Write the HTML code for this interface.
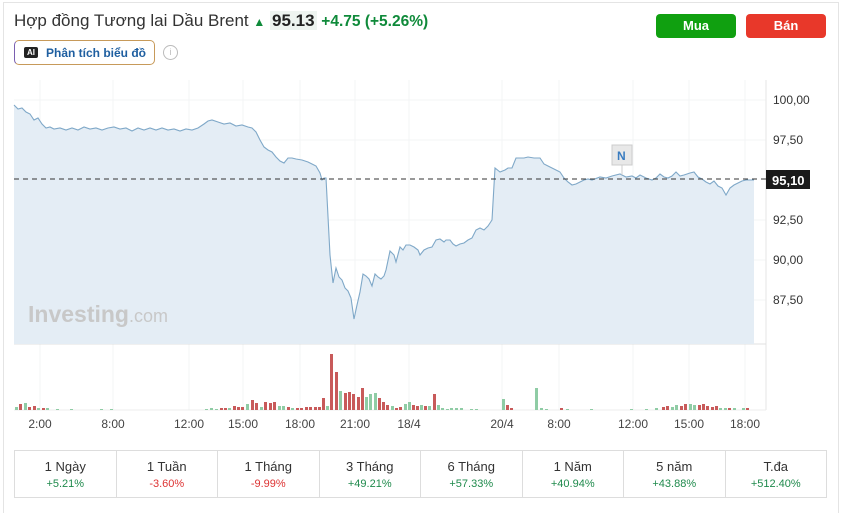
<!DOCTYPE html>
<html><head><meta charset="utf-8"><style>
body{margin:0;width:841px;height:505px;background:#fff;font-family:"Liberation Sans",sans-serif;position:relative;overflow:hidden}
.card{position:absolute;left:3px;top:2px;width:834px;height:510px;border:1px solid #e4e4e4;border-bottom:none}
.title{position:absolute;left:14px;top:11px;font-size:17px;color:#333;white-space:nowrap}
.title b{font-weight:bold;color:#222;background:#eef4f0;padding:0 2px}
.title .g{color:#0f8a3a;font-weight:bold;font-size:15.5px}
.ai{position:absolute;left:14px;top:40px;width:141px;height:25px;border:1px solid #c79a5a;border-left-color:#7a5fb0;border-radius:5px;box-sizing:border-box}
.ai span{position:absolute;left:31px;top:5px;font-size:12px;font-weight:bold;color:#1f5fa0}
.ai i{position:absolute;left:9px;top:6px;width:14px;height:11px;background:#222;border-radius:2px;color:#fff;font-size:8px;font-style:normal;font-weight:bold;text-align:center;line-height:11px}
.info{position:absolute;left:163px;top:45px;width:13px;height:13px;border:1px solid #bbb;border-radius:50%;color:#bbb;font-size:9px;text-align:center;line-height:13px}
.btn{position:absolute;top:14px;width:80px;height:24px;border-radius:4px;color:#fff;font-weight:bold;font-size:13px;text-align:center;line-height:24px}
.tbl{position:absolute;left:14px;top:450px;width:813px;height:48px;border:1px solid #ddd;box-sizing:border-box;display:flex}
.tbl div{flex:1;border-right:1px solid #ddd;text-align:center;font-size:13px;color:#333;padding-top:8px}
.tbl div:last-child{border-right:none}
.tbl div p{margin:4px 0 0;font-size:11px}
.up{color:#1f8a4c}.dn{color:#d33}
</style></head><body>
<div class="card"></div>
<div class="title">Hợp đồng Tương lai Dầu Brent <span style="color:#0f8a3a;font-size:12px">&#9650;</span> <b>95.13</b> <span class="g">+4.75 (+5.26%)</span></div>
<div class="ai"><i>AI</i><span>Phân tích biểu đồ</span></div>
<div class="info">i</div>
<div class="btn" style="left:656px;background:#10a010">Mua</div>
<div class="btn" style="left:746px;background:#e8382a">Bán</div>
<svg style="position:absolute;left:0;top:0" width="841" height="450" xmlns="http://www.w3.org/2000/svg">
<g stroke="#f3f4f6" stroke-width="1">
<line x1="14" y1="100" x2="766" y2="100"/><line x1="14" y1="140" x2="766" y2="140"/><line x1="14" y1="220" x2="766" y2="220"/><line x1="14" y1="260" x2="766" y2="260"/><line x1="14" y1="300" x2="766" y2="300"/>
<line x1="40" y1="80" x2="40" y2="410"/><line x1="113" y1="80" x2="113" y2="410"/><line x1="189" y1="80" x2="189" y2="410"/><line x1="243" y1="80" x2="243" y2="410"/><line x1="300" y1="80" x2="300" y2="410"/><line x1="355" y1="80" x2="355" y2="410"/><line x1="409" y1="80" x2="409" y2="410"/><line x1="502" y1="80" x2="502" y2="410"/><line x1="559" y1="80" x2="559" y2="410"/><line x1="633" y1="80" x2="633" y2="410"/><line x1="689" y1="80" x2="689" y2="410"/><line x1="745" y1="80" x2="745" y2="410"/>
</g>
<line x1="766" y1="80" x2="766" y2="410" stroke="#e6e6e6"/>
<line x1="14" y1="344" x2="766" y2="344" stroke="#e0e0e0"/>
<line x1="14" y1="410" x2="766" y2="410" stroke="#ececec"/>
<path id="area" fill="#e4edf5" stroke="none"/>
<polyline id="ln" fill="none" stroke="#7fa8c8" stroke-width="1.1"/>
<line x1="14" y1="179" x2="766" y2="179" stroke="#333" stroke-dasharray="5,4" stroke-width="1"/>
<rect x="766" y="170" width="44" height="19" fill="#1a1a1a"/>
<text x="772" y="185" font-size="13" font-weight="bold" fill="#fff">95,10</text>
<g font-size="12" fill="#333">
<text x="773" y="104">100,00</text><text x="773" y="144">97,50</text><text x="773" y="224">92,50</text><text x="773" y="264">90,00</text><text x="773" y="304">87,50</text>
</g>
<rect x="612" y="145" width="20" height="20" fill="#e8e8e8" stroke="#ccc"/>
<text x="617" y="160" font-size="12" font-weight="bold" fill="#3a7cc0">N</text>
<line x1="622" y1="165" x2="622" y2="175" stroke="#ccc"/>
<text x="28" y="322" font-size="23" font-weight="bold" fill="#c8c8c8">Investing<tspan font-weight="normal" font-size="18">.com</tspan></text>
<g id="vol"></g>
<g font-size="12" fill="#444" text-anchor="middle">
<text x="40" y="428">2:00</text><text x="113" y="428">8:00</text><text x="189" y="428">12:00</text><text x="243" y="428">15:00</text><text x="300" y="428">18:00</text><text x="355" y="428">21:00</text><text x="409" y="428">18/4</text><text x="502" y="428">20/4</text><text x="559" y="428">8:00</text><text x="633" y="428">12:00</text><text x="689" y="428">15:00</text><text x="745" y="428">18:00</text>
</g>
</svg>
<div class="tbl">
<div>1 Ngày<p class="up">+5.21%</p></div><div>1 Tuần<p class="dn">-3.60%</p></div><div>1 Tháng<p class="dn">-9.99%</p></div><div>3 Tháng<p class="up">+49.21%</p></div><div>6 Tháng<p class="up">+57.33%</p></div><div>1 Năm<p class="up">+40.94%</p></div><div>5 năm<p class="up">+43.88%</p></div><div>T.đa<p class="up">+512.40%</p></div>
</div>
<script>
var p="14,105 18,109 22,108 26,112 30,114 34,120 38,118 42,124 46,128 50,127 54,129 60,128 66,130 72,128 78,130 84,127 90,129 96,128 102,130 108,128 114,127 120,129 126,128 132,131 138,128 144,130 150,128 156,130 162,128 168,130 174,129 180,131 186,129 192,130 198,128 204,124 208,121 212,120 218,122 224,124 230,123 236,126 242,125 248,127 252,128 256,132 260,140 264,147 268,150 272,152 276,157 280,161 284,163 288,158 292,158 296,159 302,160 308,162 312,164 316,166 320,173 322,180 324,178 326,178 330,255 333,283 336,268 339,277 342,280 345,288 348,291 351,298 354,319 357,305 360,292 363,274 366,276 369,279 372,286 375,274 378,277 381,279 384,276 386,270 390,251 394,255 396,262 400,247 403,250 406,245 410,245 414,247 418,250 420,255 424,250 428,248 432,247 436,240 440,239 444,242 446,240 450,240 453,244 456,246 460,244 464,243 468,240 472,238 476,230 480,228 484,230 488,226 490,223 492,220 495,168 500,172 505,170 508,168 512,168 516,158 520,158 524,158 528,157 534,158 540,158 544,164 548,166 552,168 556,170 560,172 564,178 568,182 572,185 576,184 580,182 584,180 588,179 592,180 600,177 606,178 612,176 620,174 626,177 632,176 636,178 640,175 646,178 652,180 656,178 660,174 664,177 668,178 672,176 676,172 680,176 684,175 690,173 694,172 698,177 702,179 706,182 710,184 714,181 718,186 722,188 726,195 730,188 734,185 738,183 742,181 746,180 750,180 754,180";
document.getElementById('ln').setAttribute('points',p);
document.getElementById('area').setAttribute('d','M'+p.split(' ').join(' L')+' L754,344 L14,344 Z');
var R="#c85a5a",G="#8fcca5";
var v=[[15,3,G],[19,6,R],[24,7,G],[28,3,R],[33,4,R],[37,2,G],[42,2,R],[46,2,G],[56,1,G],[70,1,G],[100,1,G],[110,1,G],[205,1,G],[210,2,G],[215,1,G],[220,2,R],[224,2,R],[228,2,G],[233,4,R],[237,3,R],[241,3,R],[246,6,G],[251,10,R],[255,7,R],[260,3,G],[264,8,R],[269,7,R],[273,8,R],[278,4,G],[282,4,G],[287,3,R],[291,2,G],[296,2,R],[300,2,R],[305,3,R],[309,3,R],[314,3,R],[318,3,R],[322,12,R],[326,4,G],[330,56,R],[335,38,R],[339,19,G],[344,17,R],[348,18,R],[352,16,R],[357,13,R],[361,22,R],[365,13,G],[369,16,G],[374,17,G],[378,12,R],[382,8,R],[386,5,R],[391,4,G],[395,2,R],[399,3,R],[404,6,G],[408,8,G],[412,5,R],[416,4,R],[420,5,G],[424,4,R],[428,4,G],[433,16,R],[437,5,G],[441,2,G],[446,1,G],[450,2,G],[455,2,G],[460,2,G],[470,1,G],[475,1,G],[502,11,G],[506,5,R],[510,2,R],[535,22,G],[540,2,G],[545,1,G],[560,2,R],[566,1,G],[590,1,G],[630,1,G],[645,1,G],[655,2,G],[662,3,R],[666,4,R],[671,3,G],[675,5,G],[680,4,R],[684,6,R],[689,6,G],[693,5,G],[698,5,R],[702,6,R],[706,4,R],[711,3,R],[715,4,R],[719,2,G],[724,2,G],[728,2,R],[733,2,G],[742,2,G],[746,2,R]];
var s="";v.forEach(function(b){s+='<rect x="'+b[0]+'" y="'+(410-b[1])+'" width="3" height="'+b[1]+'" fill="'+b[2]+'"/>';});
document.getElementById('vol').innerHTML=s;
</script>
</body></html>
